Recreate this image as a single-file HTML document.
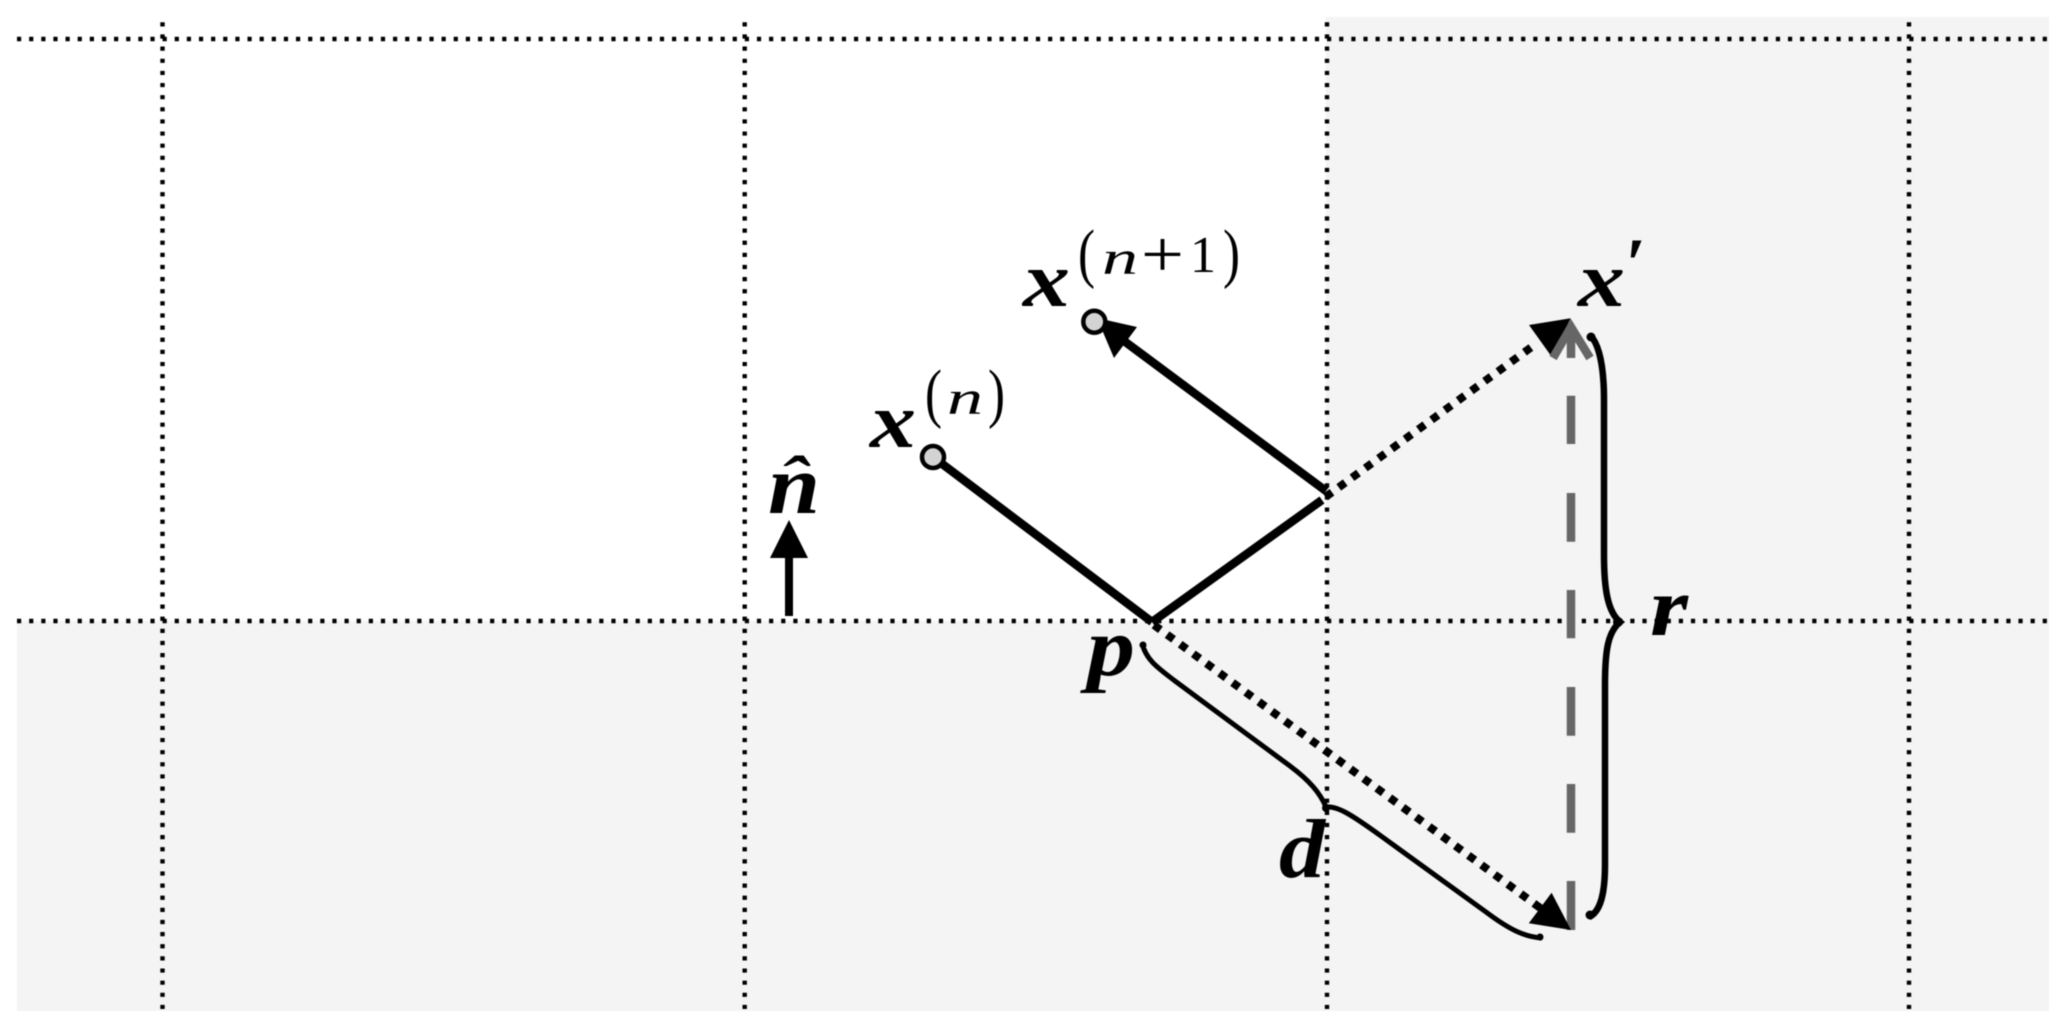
<!DOCTYPE html>
<html><head><meta charset="utf-8"><style>
html,body{margin:0;padding:0;background:#fff}
svg{display:block;filter:blur(0.4px)}
text{fill:#000;font-family:"Liberation Serif",serif}
.b{font-weight:bold;font-style:italic}
.s{font-size:66px}
.n{font-size:48px;font-style:italic}
</style></head><body>
<svg width="2067" height="1029" viewBox="0 0 2067 1029" xmlns="http://www.w3.org/2000/svg">
<rect width="2067" height="1029" fill="#fff"/>
<rect x="17" y="621" width="2032" height="390" fill="#f4f4f4"/>
<rect x="1326" y="17" width="723" height="604" fill="#f4f4f4"/>
<g stroke="#000" stroke-width="4.4" stroke-dasharray="4.2 7.93" fill="none">
<line x1="17" y1="39" x2="2049" y2="39"/>
<line x1="17" y1="621" x2="2049" y2="621"/>
<line x1="162.5" y1="22.3" x2="162.5" y2="1011"/>
<line x1="744.7" y1="22.3" x2="744.7" y2="1011"/>
<line x1="1327" y1="22.3" x2="1327" y2="1011"/>
<line x1="1909" y1="22.3" x2="1909" y2="1011"/>
</g>
<!-- gray dashed -->
<g stroke="#666" stroke-width="8.5" fill="none">
<line x1="1571" y1="395.7" x2="1571" y2="444"/>
<line x1="1571" y1="493" x2="1571" y2="541.7"/>
<line x1="1571" y1="590" x2="1571" y2="638.3"/>
<line x1="1571" y1="687" x2="1571" y2="735.7"/>
<line x1="1571" y1="784" x2="1571" y2="832.7"/>
<line x1="1571" y1="881" x2="1571" y2="930"/>
</g>
<!-- solid lines -->
<g stroke="#000" stroke-width="8.5" fill="none">
<line x1="933" y1="457" x2="1152" y2="622"/>
<line x1="1152" y1="622" x2="1322" y2="500"/>
<line x1="1120" y1="338" x2="1326" y2="491"/>
</g>
<polygon points="1097,318 1137,327 1114,358" fill="#000"/>
<!-- dotted -->
<g stroke="#000" stroke-width="8" fill="none">
<line x1="1325.5" y1="497" x2="1533" y2="346" stroke-dasharray="8 8.4"/>
<line x1="1154" y1="625" x2="1543" y2="910" stroke-dasharray="8 8.24"/>
</g>
<polygon points="1570.7,318.3 1529,325 1551.7,356.7" fill="#000"/>
<polygon points="1571,930 1528.8,923.3 1551.6,892.7" fill="#000"/>
<!-- chevron -->
<g stroke="#666" stroke-width="8.5" fill="none">
<line x1="1571" y1="328" x2="1571" y2="358"/>
<polyline points="1553,358 1571,327 1590,358"/>
</g>
<!-- points -->
<circle cx="933" cy="457" r="11" fill="#d3d3d3" stroke="#000" stroke-width="4.5"/>
<circle cx="1094.3" cy="321.7" r="11" fill="#d3d3d3" stroke="#000" stroke-width="4.5"/>
<!-- normal -->
<line x1="789" y1="550" x2="789" y2="616" stroke="#000" stroke-width="8"/>
<polygon points="789,520 808,558 770,558" fill="#000"/>
<!-- braces -->
<path d="M1590,335 C1600,345 1604,370 1604,400 L1604,555 C1604,590 1608,612 1620,622 C1608,632 1605,650 1605,685 L1605,865 C1605,895 1600,912 1589,917" fill="none" stroke="#000" stroke-width="6.5"/>
<path d="M1142,643 C1146,660 1158,668 1175,681 L1290,766 C1310,781 1320,793 1326,807 C1338,806 1352,815 1381,836 L1486,912 C1510,930 1525,937 1542,938" fill="none" stroke="#000" stroke-width="5"/>
<g fill="#000">
<circle cx="1591" cy="337" r="4.5"/>
<circle cx="1590" cy="915" r="4.5"/>
<circle cx="1143" cy="645" r="3.5"/>
<circle cx="1540" cy="937" r="3.5"/>
<circle cx="1618" cy="622" r="5"/>
<circle cx="1326" cy="808" r="4"/>
</g>
<!-- labels -->
<text class="b" x="870" y="447" font-size="78" textLength="46" lengthAdjust="spacingAndGlyphs">x</text>
<text class="s" x="925" y="415" textLength="17" lengthAdjust="spacingAndGlyphs">(</text>
<text class="n" x="947" y="414" textLength="36" lengthAdjust="spacingAndGlyphs">n</text>
<text class="s" x="988" y="415" textLength="17" lengthAdjust="spacingAndGlyphs">)</text>
<text class="b" x="1023" y="306" font-size="78" textLength="47" lengthAdjust="spacingAndGlyphs">x</text>
<text class="s" x="1078" y="275" textLength="17" lengthAdjust="spacingAndGlyphs">(</text>
<text class="n" x="1102" y="274" textLength="36" lengthAdjust="spacingAndGlyphs">n</text>
<text x="1141" y="276" font-size="66" textLength="43" lengthAdjust="spacingAndGlyphs">+</text>
<text x="1190" y="272" font-size="52" textLength="26" lengthAdjust="spacingAndGlyphs">1</text>
<text class="s" x="1223" y="275" textLength="17" lengthAdjust="spacingAndGlyphs">)</text>
<text class="b" x="1578" y="306" font-size="78" textLength="47" lengthAdjust="spacingAndGlyphs">x</text>
<text x="1626" y="288" font-size="72" font-weight="bold">′</text>
<text class="b" x="1650" y="635" font-size="84" textLength="38" lengthAdjust="spacingAndGlyphs">r</text>
<text class="b" x="1087" y="675" font-size="84" textLength="48" lengthAdjust="spacingAndGlyphs">p</text>
<text class="b" x="1279" y="877" font-size="84" textLength="46" lengthAdjust="spacingAndGlyphs">d</text>
<text class="b" x="768" y="513" font-size="84" textLength="52" lengthAdjust="spacingAndGlyphs">n</text>
<text class="b" x="779" y="502" font-size="66" textLength="28" lengthAdjust="spacingAndGlyphs">ˆ</text>
</svg>
</body></html>
